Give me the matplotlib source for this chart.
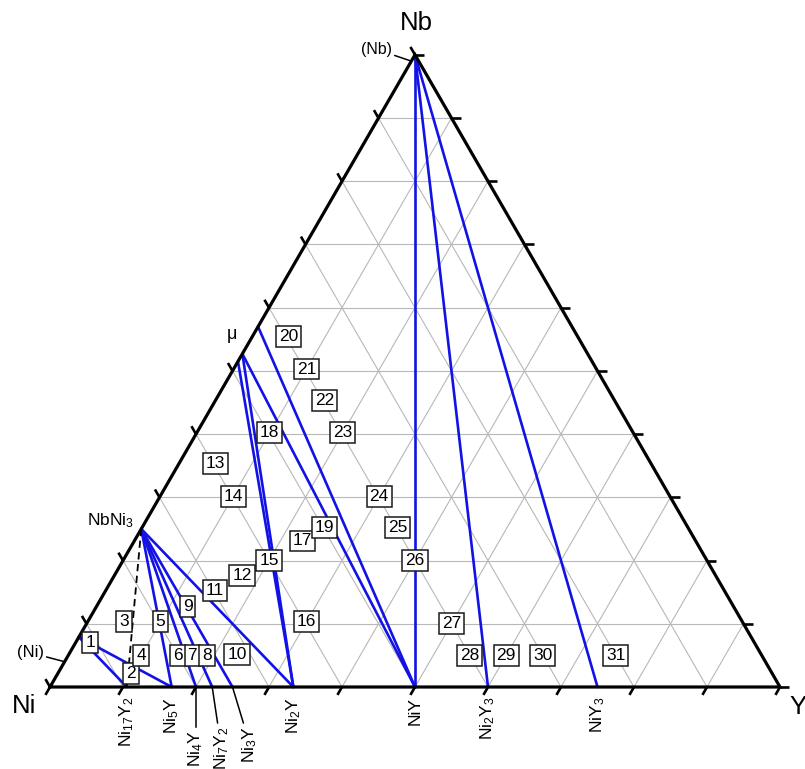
import numpy as np
import matplotlib
matplotlib.use("Agg")
import matplotlib.pyplot as plt

plt.rcParams["font.family"] = ["Liberation Sans", "DejaVu Sans"]
plt.rcParams["mathtext.fontset"] = "custom"
plt.rcParams["mathtext.rm"] = "Liberation Sans"
plt.rcParams["mathtext.it"] = "Liberation Sans:italic"

# ---- phase compositions: (x_Y, x_Nb) mole fractions ----
ni_y_names = ["Ni17Y2", "Ni5Y", "Ni4Y", "Ni7Y2", "Ni3Y", "Ni2Y", "NiY", "Ni2Y3", "NiY3"]
ni_y_xY = [2 / 19, 1 / 6, 1 / 5, 2 / 9, 1 / 4, 1 / 3, 1 / 2, 3 / 5, 3 / 4]
ni_y_labels = [r"Ni$\mathregular{_{17}}$Y$\mathregular{_2}$", r"Ni$\mathregular{_5}$Y",
               r"Ni$\mathregular{_4}$Y", r"Ni$\mathregular{_7}$Y$\mathregular{_2}$",
               r"Ni$\mathregular{_3}$Y", r"Ni$\mathregular{_2}$Y", "NiY",
               r"Ni$\mathregular{_2}$Y$\mathregular{_3}$", r"NiY$\mathregular{_3}$"]

nb_ni_names = ["(Ni)", "NbNi3", "mu_a", "mu_b", "mu_c", "(Nb)"]
nb_ni_xNb = [0.079, 0.25, 0.515, 0.527, 0.57, 1.0]

# tie lines (solid) and the tentative one (dashed)
tie_lines = [
    ("(Ni)", "Ni17Y2"), ("(Ni)", "Ni5Y"),
    ("NbNi3", "Ni5Y"), ("NbNi3", "Ni4Y"), ("NbNi3", "Ni7Y2"),
    ("NbNi3", "Ni3Y"), ("NbNi3", "Ni2Y"),
    ("mu_a", "Ni2Y"), ("mu_b", "Ni2Y"), ("mu_b", "NiY"), ("mu_c", "NiY"),
    ("(Nb)", "NiY"), ("(Nb)", "Ni2Y3"), ("(Nb)", "NiY3"),
]
dashed_lines = [("NbNi3", "Ni17Y2")]

# phase-field numbers at (x_Y %, x_Nb %)
field_ids = list(range(1, 32))
field_Y = [2, 10, 5, 10, 10, 15, 17, 19, 12.5, 23, 15, 17.5, 5, 10, 20, 30, 23, 10, 25,
           5, 10, 15, 20, 30, 35, 40, 50, 55, 60, 65, 75]
field_Nb = [7, 2.2, 10.3, 5, 10.3, 5, 5, 5, 12.7, 5.2, 15.2, 17.6, 35.3, 30.2, 20, 10.3, 23.1,
            40.2, 25.2, 55.4, 50.3, 45.3, 40.2, 30.2, 25.2, 20, 10.1, 5, 5, 5, 5]

S3 = np.sqrt(3) / 2


def tern(xY, xNb):
    """(x_Y, x_Nb) -> Cartesian position in the equilateral triangle."""
    xY = np.asarray(xY, float)
    xNb = np.asarray(xNb, float)
    return xY + xNb / 2, xNb * S3


phase = {n: (v, 0.0) for n, v in zip(ni_y_names, ni_y_xY)}
phase.update({n: (0.0, v) for n, v in zip(nb_ni_names, nb_ni_xNb)})

fig = plt.figure(figsize=(8.05, 7.69), dpi=100)
ax = fig.add_axes([0, 0, 1, 1])
ax.set_xlim(-50 / 730, 755 / 730)
ax.set_ylim(-82 / 730, 687 / 730)
ax.axis("off")

# ---- 10 % grid ----
grid_kw = dict(color="#b8b8b8", lw=0.8, zorder=1)
for k in range(1, 10):
    f = k / 10
    x, y = tern([0, 1 - f], [f, f]); ax.plot(x, y, **grid_kw)      # constant Nb
    x, y = tern([f, f], [0, 1 - f]); ax.plot(x, y, **grid_kw)      # constant Y
    x, y = tern([1 - f, 0], [0, 1 - f]); ax.plot(x, y, **grid_kw)  # constant Ni

# ---- tie lines ----
for a, b in tie_lines:
    x, y = tern([phase[a][0], phase[b][0]], [phase[a][1], phase[b][1]])
    ax.plot(x, y, color="#1212e6", lw=1.9, zorder=3, solid_capstyle="round")
for a, b in dashed_lines:
    x, y = tern([phase[a][0], phase[b][0]], [phase[a][1], phase[b][1]])
    ax.plot(x, y, color="black", lw=1.3, ls=(0, (4, 2.5)), zorder=3)

# ---- triangle frame and ticks ----
x, y = tern([0, 1, 0, 0], [0, 0, 1, 0])
ax.plot(x, y, color="black", lw=2.3, zorder=4, solid_joinstyle="miter")
L = 0.0125
tick_kw = dict(color="black", lw=1.9, zorder=4, solid_capstyle="butt")
for k in range(11):
    f = k / 10
    bx, by = tern(f, 0)
    ax.plot([bx, bx - 0.5 * L], [by, by - S3 * L], **tick_kw)
    rx, ry = tern(1 - f, f)
    ax.plot([rx, rx + L], [ry, ry], **tick_kw)
    lx, ly = tern(0, f)
    ax.plot([lx, lx - 0.5 * L], [ly, ly + S3 * L], **tick_kw)

# ---- corner labels ----
corner_kw = dict(fontsize=18.5, textcoords="offset points", va="center")
ax.annotate("Nb", xy=tern(0, 1), xytext=(0.7, 23), ha="center", **corner_kw)
ax.annotate("Ni", xy=tern(0, 0), xytext=(-18.5, -13.5), ha="center", **corner_kw)
ax.annotate("Y", xy=tern(1, 0), xytext=(6.5, -14.5), ha="left", **corner_kw)

# ---- binary compound labels along Ni-Y ----
line_kw = dict(arrowstyle="-", color="black", lw=1.1, shrinkA=0, shrinkB=0)
offsets = {"Ni4Y": (0, -31), "Ni7Y2": (6.5, -28), "Ni3Y": (12.5, -28)}
for name, xY, lab in zip(ni_y_names, ni_y_xY, ni_y_labels):
    off = offsets.get(name, (0, -7))
    ap = line_kw if name in offsets else None
    ax.annotate(lab, xy=tern(xY, 0), xytext=off, textcoords="offset points",
                rotation=90, ha="center", va="top", fontsize=12.5, arrowprops=ap,
                zorder=5)

# ---- Ni-Nb side labels ----
ax.annotate("(Ni)", xy=tern(0, 0.04), xytext=(-15.0, 6.5), textcoords="offset points",
            ha="right", va="center", fontsize=12, arrowprops=line_kw)
ax.annotate("(Nb)", xy=tern(0, 0.99), xytext=(-14.0, 8.5), textcoords="offset points",
            ha="right", va="center", fontsize=11.5, arrowprops=line_kw)
ax.annotate(r"NbNi$\mathregular{_3}$", xy=tern(*phase["NbNi3"]), xytext=(-5.0, 6),
            textcoords="offset points", ha="right", va="center", fontsize=12.5)
ax.annotate("μ", xy=tern(*phase["mu_b"]), xytext=(-7.5, 14), textcoords="offset points",
            ha="center", va="center", fontsize=13)

# ---- phase-field numbers ----
for i, fy, fn in zip(field_ids, field_Y, field_Nb):
    x, y = tern(fy / 100, fn / 100)
    ax.text(x, y, str(i), ha="center", va="center", fontsize=12.5, zorder=6,
            bbox=dict(boxstyle="square,pad=0.17", fc="white", ec="#1a1a1a", lw=1.1))

fig.savefig("out.png", dpi=100)
